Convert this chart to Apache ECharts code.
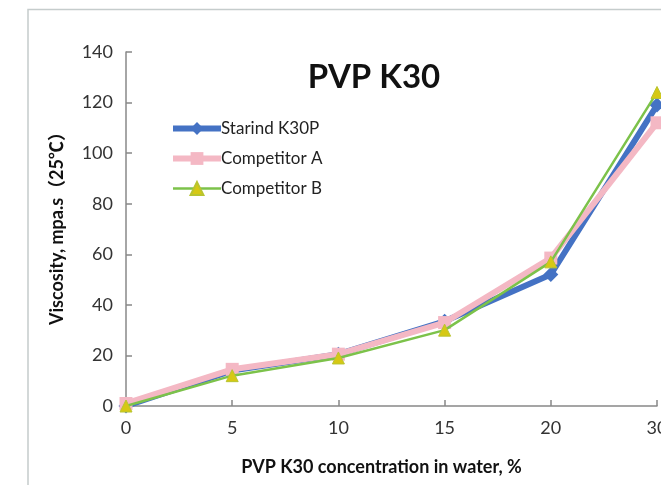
<!DOCTYPE html>
<html><head><meta charset="utf-8">
<script src="https://cdn.jsdelivr.net/npm/echarts@6/dist/echarts.min.js"></script>
<style>html,body{margin:0;padding:0;background:#fff}#c{width:661px;height:485px}</style>
</head><body><div id="c"></div>
<script>
const categories = ['0','5','10','15','20','30'];
const starind = [0, 14, 20.5, 33.5, 52, 119];
const compA = [1, 14.5, 20.5, 33, 58.5, 112];
const compB = [0, 12, 19, 30, 57, 124];
const yTicks = [0, 20, 40, 60, 80, 100, 120, 140];

const FONT = 'Lato, "Open Sans", sans-serif';
const chart = echarts.init(document.getElementById('c'), null, {renderer: 'canvas'});
chart.setOption({
  animation: false,
  backgroundColor: '#fff',
  title: {
    text: 'PVP K30', left: 369, top: 56, textAlign: 'center',
    textStyle: {fontFamily: FONT, fontSize: 33, fontWeight: 'bold', color: '#111'}
  },
  graphic: [{
    type: 'polyline', shape: {points: [[28, 490], [28, 9.5], [670, 9.5]]},
    style: {stroke: '#c5cccc', lineWidth: 1.5, fill: null}, silent: true
  }],
  legend: {
    orient: 'vertical', left: 165, top: 115, itemWidth: 48, itemHeight: 16, itemGap: 13,
    textStyle: {fontFamily: FONT, fontSize: 17, color: '#222', padding: [0, 0, 0, -5]},
    data: [
      {name: 'Starind K30P', lineStyle: {width: 6}},
      {name: 'Competitor A', lineStyle: {width: 6}},
      {name: 'Competitor B', lineStyle: {width: 2.5}}
    ]
  },
  grid: {left: 126, right: 4, top: 52, bottom: 79, containLabel: false, outerBoundsMode: 'none'},
  xAxis: {
    type: 'category', data: categories, boundaryGap: false,
    name: 'PVP K30 concentration in water, %', nameLocation: 'middle', nameGap: 52,
    nameTextStyle: {fontFamily: FONT, fontSize: 18, fontWeight: 'bold', color: '#111', padding: [0, 20, 0, 0]},
    axisLine: {lineStyle: {color: '#888', width: 1.5}},
    axisTick: {inside: true, length: 6, alignWithLabel: true, lineStyle: {color: '#888', width: 1.5}},
    axisLabel: {fontFamily: FONT, fontSize: 18, color: '#333', margin: 13}
  },
  yAxis: {
    type: 'value', min: 0, max: 140, interval: 20,
    name: 'Viscosity, mpa.s（25℃）', nameLocation: 'middle', nameGap: 60, nameRotate: 90,
    nameTextStyle: {fontFamily: 'Lato, "Noto Sans CJK SC", sans-serif', fontSize: 18, fontWeight: 'bold', color: '#111', padding: [0, 0, 0, 10]},
    axisLine: {show: true, lineStyle: {color: '#888', width: 1.5}},
    axisTick: {show: true, inside: true, length: 6, lineStyle: {color: '#888', width: 1.5}},
    splitLine: {show: false},
    axisLabel: {fontFamily: FONT, fontSize: 18, color: '#333', margin: 13,
      formatter: v => yTicks.includes(v) ? String(v) : ''}
  },
  series: [
    {name: 'Starind K30P', type: 'line', data: starind, symbol: 'diamond', symbolSize: 15,
     lineStyle: {color: '#4472C4', width: 6}, itemStyle: {color: '#4472C4'}, clip: false, z: 2},
    {name: 'Competitor A', type: 'line', data: compA, symbol: 'rect', symbolSize: 13,
     lineStyle: {color: '#F4B8C4', width: 6}, itemStyle: {color: '#F4B8C4'}, clip: false, z: 3},
    {name: 'Competitor B', type: 'line', data: compB, symbol: 'triangle', symbolSize: 12,
     lineStyle: {color: '#7CC24A', width: 2.5}, itemStyle: {color: '#D6C814', borderColor: '#B8C430', borderWidth: 1}, clip: false, z: 4}
  ]
});
</script></body></html>
